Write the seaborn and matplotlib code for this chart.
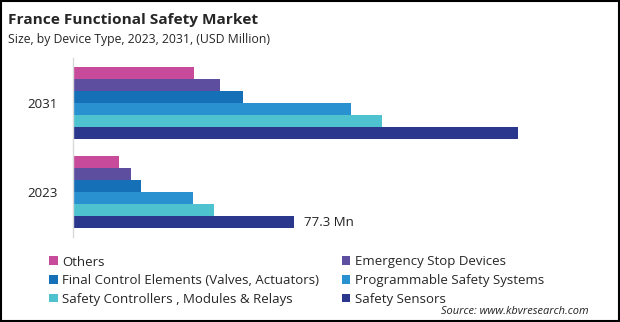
import matplotlib
matplotlib.use("Agg")
import matplotlib.pyplot as plt
import seaborn as sns
import pandas as pd
from matplotlib.patches import Rectangle

years = ["2031", "2023"]
segments = ["Others", "Emergency Stop Devices", "Final Control Elements (Valves, Actuators)",
            "Programmable Safety Systems", "Safety Controllers , Modules & Relays", "Safety Sensors"]
values_2031 = [42.3, 51.4, 59.4, 97.2, 107.7, 155.2]
values_2023 = [15.9, 20.3, 23.8, 41.9, 49.3, 77.3]
colors = ["#C84B9B", "#5E4E9F", "#1570B8", "#2A91D0", "#4EC3CF", "#2B378C"]

rows = []
for s, v in zip(segments, values_2031):
    rows.append({"Year": "2031", "Segment": s, "Value": v})
for s, v in zip(segments, values_2023):
    rows.append({"Year": "2023", "Segment": s, "Value": v})
df = pd.DataFrame(rows)

sns.set_style("white")
plt.rcParams["font.family"] = ["Open Sans", "DejaVu Sans"]

fig = plt.figure(figsize=(6.2, 3.22), dpi=100)
ax = fig.add_axes([73 / 620, 1 - 237 / 322, 487 / 620, 179 / 322])
sns.barplot(data=df, y="Year", x="Value", hue="Segment", order=years, hue_order=segments,
            palette=colors, orient="h", width=0.8, saturation=1, ax=ax, legend=True,
            linewidth=0, edgecolor="none")
ax.set_xlim(0, 170)
ax.set_ylim(1.5, -0.5)
ax.set_xlabel("")
ax.set_ylabel("")
ax.set_xticks([])
for side in ["top", "right", "bottom"]:
    ax.spines[side].set_visible(False)
ax.spines["left"].set_color("#D9D9D9")
ax.spines["left"].set_linewidth(1)
ax.tick_params(axis="y", length=0, pad=11, labelsize=9.6, colors="#222222")

# data label on 2023 Safety Sensors bar
last = ax.containers[-1]
bar = last[1]
ax.text(bar.get_width() + 3.5, bar.get_y() + bar.get_height() / 2, "77.3 Mn",
        va="center", ha="left", fontsize=9.5, color="#222222")

handles, labels = ax.get_legend_handles_labels()
ax.get_legend().remove()
order = [0, 2, 4, 1, 3, 5]
fig.legend([handles[i] for i in order], [labels[i] for i in order], ncol=2,
           loc="upper left", bbox_to_anchor=(49 / 620, 1 - 255.5 / 322), frameon=False,
           fontsize=9.5, handlelength=0.65, handleheight=0.65, handletextpad=0.35,
           columnspacing=1.7, labelspacing=0.42, borderaxespad=0, borderpad=0)

fig.text(8 / 620, 1 - 20 / 322, "France Functional Safety Market", fontsize=11.1,
         fontweight="bold", color="#262626", va="center", ha="left")
fig.text(8 / 620, 1 - 40 / 322, "Size, by Device Type, 2023, 2031, (USD Million)", fontsize=8.8,
         color="#262626", va="center", ha="left")
fig.text(589 / 620, 1 - 312 / 322, "Source: www.kbvresearch.com", fontsize=7.9,
         style="italic", color="#222222", va="center", ha="right")

fig.patches.append(Rectangle((0.0015, 0.003), 0.997, 0.994, transform=fig.transFigure,
                             fill=False, edgecolor="black", linewidth=1.5))

fig.savefig("out.png", dpi=100)
